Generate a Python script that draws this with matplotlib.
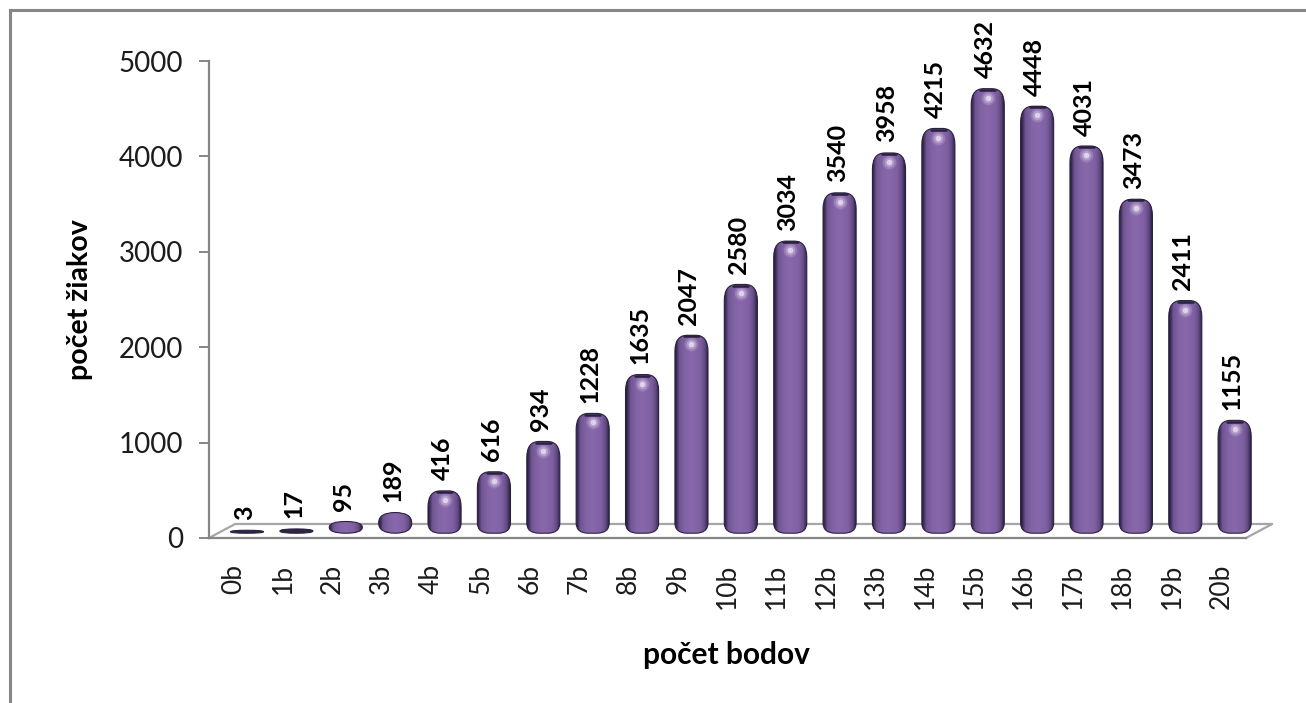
import numpy as np
import matplotlib
matplotlib.use('Agg')
import matplotlib.pyplot as plt
from matplotlib.lines import Line2D
from matplotlib.path import Path
from matplotlib.patches import PathPatch

# values
categories = ['0b', '1b', '2b', '3b', '4b', '5b', '6b', '7b', '8b', '9b', '10b',
              '11b', '12b', '13b', '14b', '15b', '16b', '17b', '18b', '19b', '20b']
counts = [3, 17, 95, 189, 416, 616, 934, 1228, 1635, 2047, 2580,
          3034, 3540, 3958, 4215, 4632, 4448, 4031, 3473, 2411, 1155]
y_ticks = [0, 1000, 2000, 3000, 4000, 5000]

W, H = 1306, 703
plt.rcParams['font.family'] = ['Lato', 'DejaVu Sans']

fig = plt.figure(figsize=(W / 100, H / 100), dpi=100)
GREY = '#868686'


def px_rect(x0, y0, x1, y1):
    return [x0 / W, 1 - y1 / H, (x1 - x0) / W, (y1 - y0) / H]


# frame round the chart, it only shows on the top and the left
for xs, ys in [((9.5, 9.5), (10, 703)), ((9.5, 1306), (10, 10))]:
    fig.add_artist(Line2D([x / W for x in xs], [1 - y / H for y in ys], color=GREY, lw=2.2))

ax = fig.add_axes(px_rect(209, 61, 1246, 538))
for s in ['top', 'right']:
    ax.spines[s].set_visible(False)
for s in ['left', 'bottom']:
    ax.spines[s].set_color(GREY)
    ax.spines[s].set_linewidth(1.6)

ax.set_yticks(y_ticks)
ax.tick_params(axis='y', length=7.5, width=1.4, color=GREY, labelsize=20, pad=11, labelcolor='#1c1c1c')
ax.set_xticks(range(len(categories)))
ax.set_xticklabels(categories, rotation=90, fontsize=19, color='#1c1c1c')
ax.tick_params(axis='x', length=0, pad=18.5)

ax.set_ylabel('počet žiakov', fontsize=20.5, fontweight='bold', va='center')
ax.yaxis.set_label_coords(-0.124, 0.499)
ax.set_xlabel('počet bodov', fontsize=21.5, fontweight='bold', va='center')
ax.xaxis.set_label_coords(0.4986, -0.245)

# floor of the 3d chart, behind the bars
ax.plot([-0.5, 0.03, 21.03, 20.5], [0, 147, 147, 0], color='#a6a6a6', lw=1.6, clip_on=False, zorder=1)

# horizontal shading across a bar
stops = [0, 0.05, 0.12, 0.3, 0.5, 0.75, 0.88, 0.95, 1]
cols = np.array([[0x2a, 0x20, 0x40], [0x3e, 0x30, 0x5c], [0x6e, 0x54, 0x90], [0x82, 0x64, 0xa6],
                 [0x88, 0x68, 0xaa], [0x7e, 0x60, 0xa2], [0x62, 0x4a, 0x82], [0x3c, 0x2e, 0x58],
                 [0x24, 0x1c, 0x38]]) / 255
t = np.linspace(0, 1, 64)
grad = np.stack([np.interp(t, stops, cols[:, c]) for c in range(3)], axis=1)[None, :, :]

half_w = 0.335
dx = 0.27          # bars sit further back on the floor than the axis
lo = 50
for i, v in enumerate(counts):
    x0, x1 = i + dx - half_w, i + dx + half_w
    hi = lo + v + 28
    h = hi - lo
    ry = min(h / 2, 170)
    rb = min(h / 2, 110)
    rx = half_w if h < 300 else 0.25
    verts = [(x0, lo + rb), (x0, hi - ry), (x0, hi), (x0 + rx, hi), (x1 - rx, hi), (x1, hi),
             (x1, hi - ry), (x1, lo + rb), (x1, lo), (x1 - rx, lo), (x0 + rx, lo), (x0, lo),
             (x0, lo + rb), (x0, lo + rb)]
    codes = [Path.MOVETO, Path.LINETO, Path.CURVE3, Path.CURVE3, Path.LINETO, Path.CURVE3, Path.CURVE3,
             Path.LINETO, Path.CURVE3, Path.CURVE3, Path.LINETO, Path.CURVE3, Path.CURVE3, Path.CLOSEPOLY]
    clip = PathPatch(Path(verts, codes), fc='none', ec='#2a2040', lw=0.8, zorder=3, clip_on=False)
    ax.add_patch(clip)
    if v < 50:
        # nearly flat bars read as a dark lens
        clip.set_facecolor('#2e2444')
    else:
        im = ax.imshow(grad, extent=(x0, x1, lo, hi), aspect='auto', zorder=2, interpolation='bilinear')
        # the last bar hangs over the end of the axes
        im.set_clip_box(fig.bbox)
        im.set_clip_path(clip)
    if h > 300:
        for ms, alpha in [(10, 0.18), (7, 0.3), (4, 0.7)]:
            ax.plot([i + dx], [hi - 95], 'o', ms=ms, color='#f0e8fa', mec='none', alpha=alpha, zorder=4,
                    clip_on=False)
        ax.plot([i + dx - 0.15, i + dx + 0.15], [hi - 12, hi - 12], color='#2a2040', lw=1.8, zorder=4,
                solid_capstyle='round', clip_on=False)
    ax.text(i + 0.22, hi + 110, str(v), rotation=90, ha='center', va='bottom',
            fontsize=18, fontweight='bold', color='black', zorder=5)

ax.set_xlim(-0.5, 20.5)
ax.set_ylim(0, 5000)
fig.savefig('out.png', dpi=100)
